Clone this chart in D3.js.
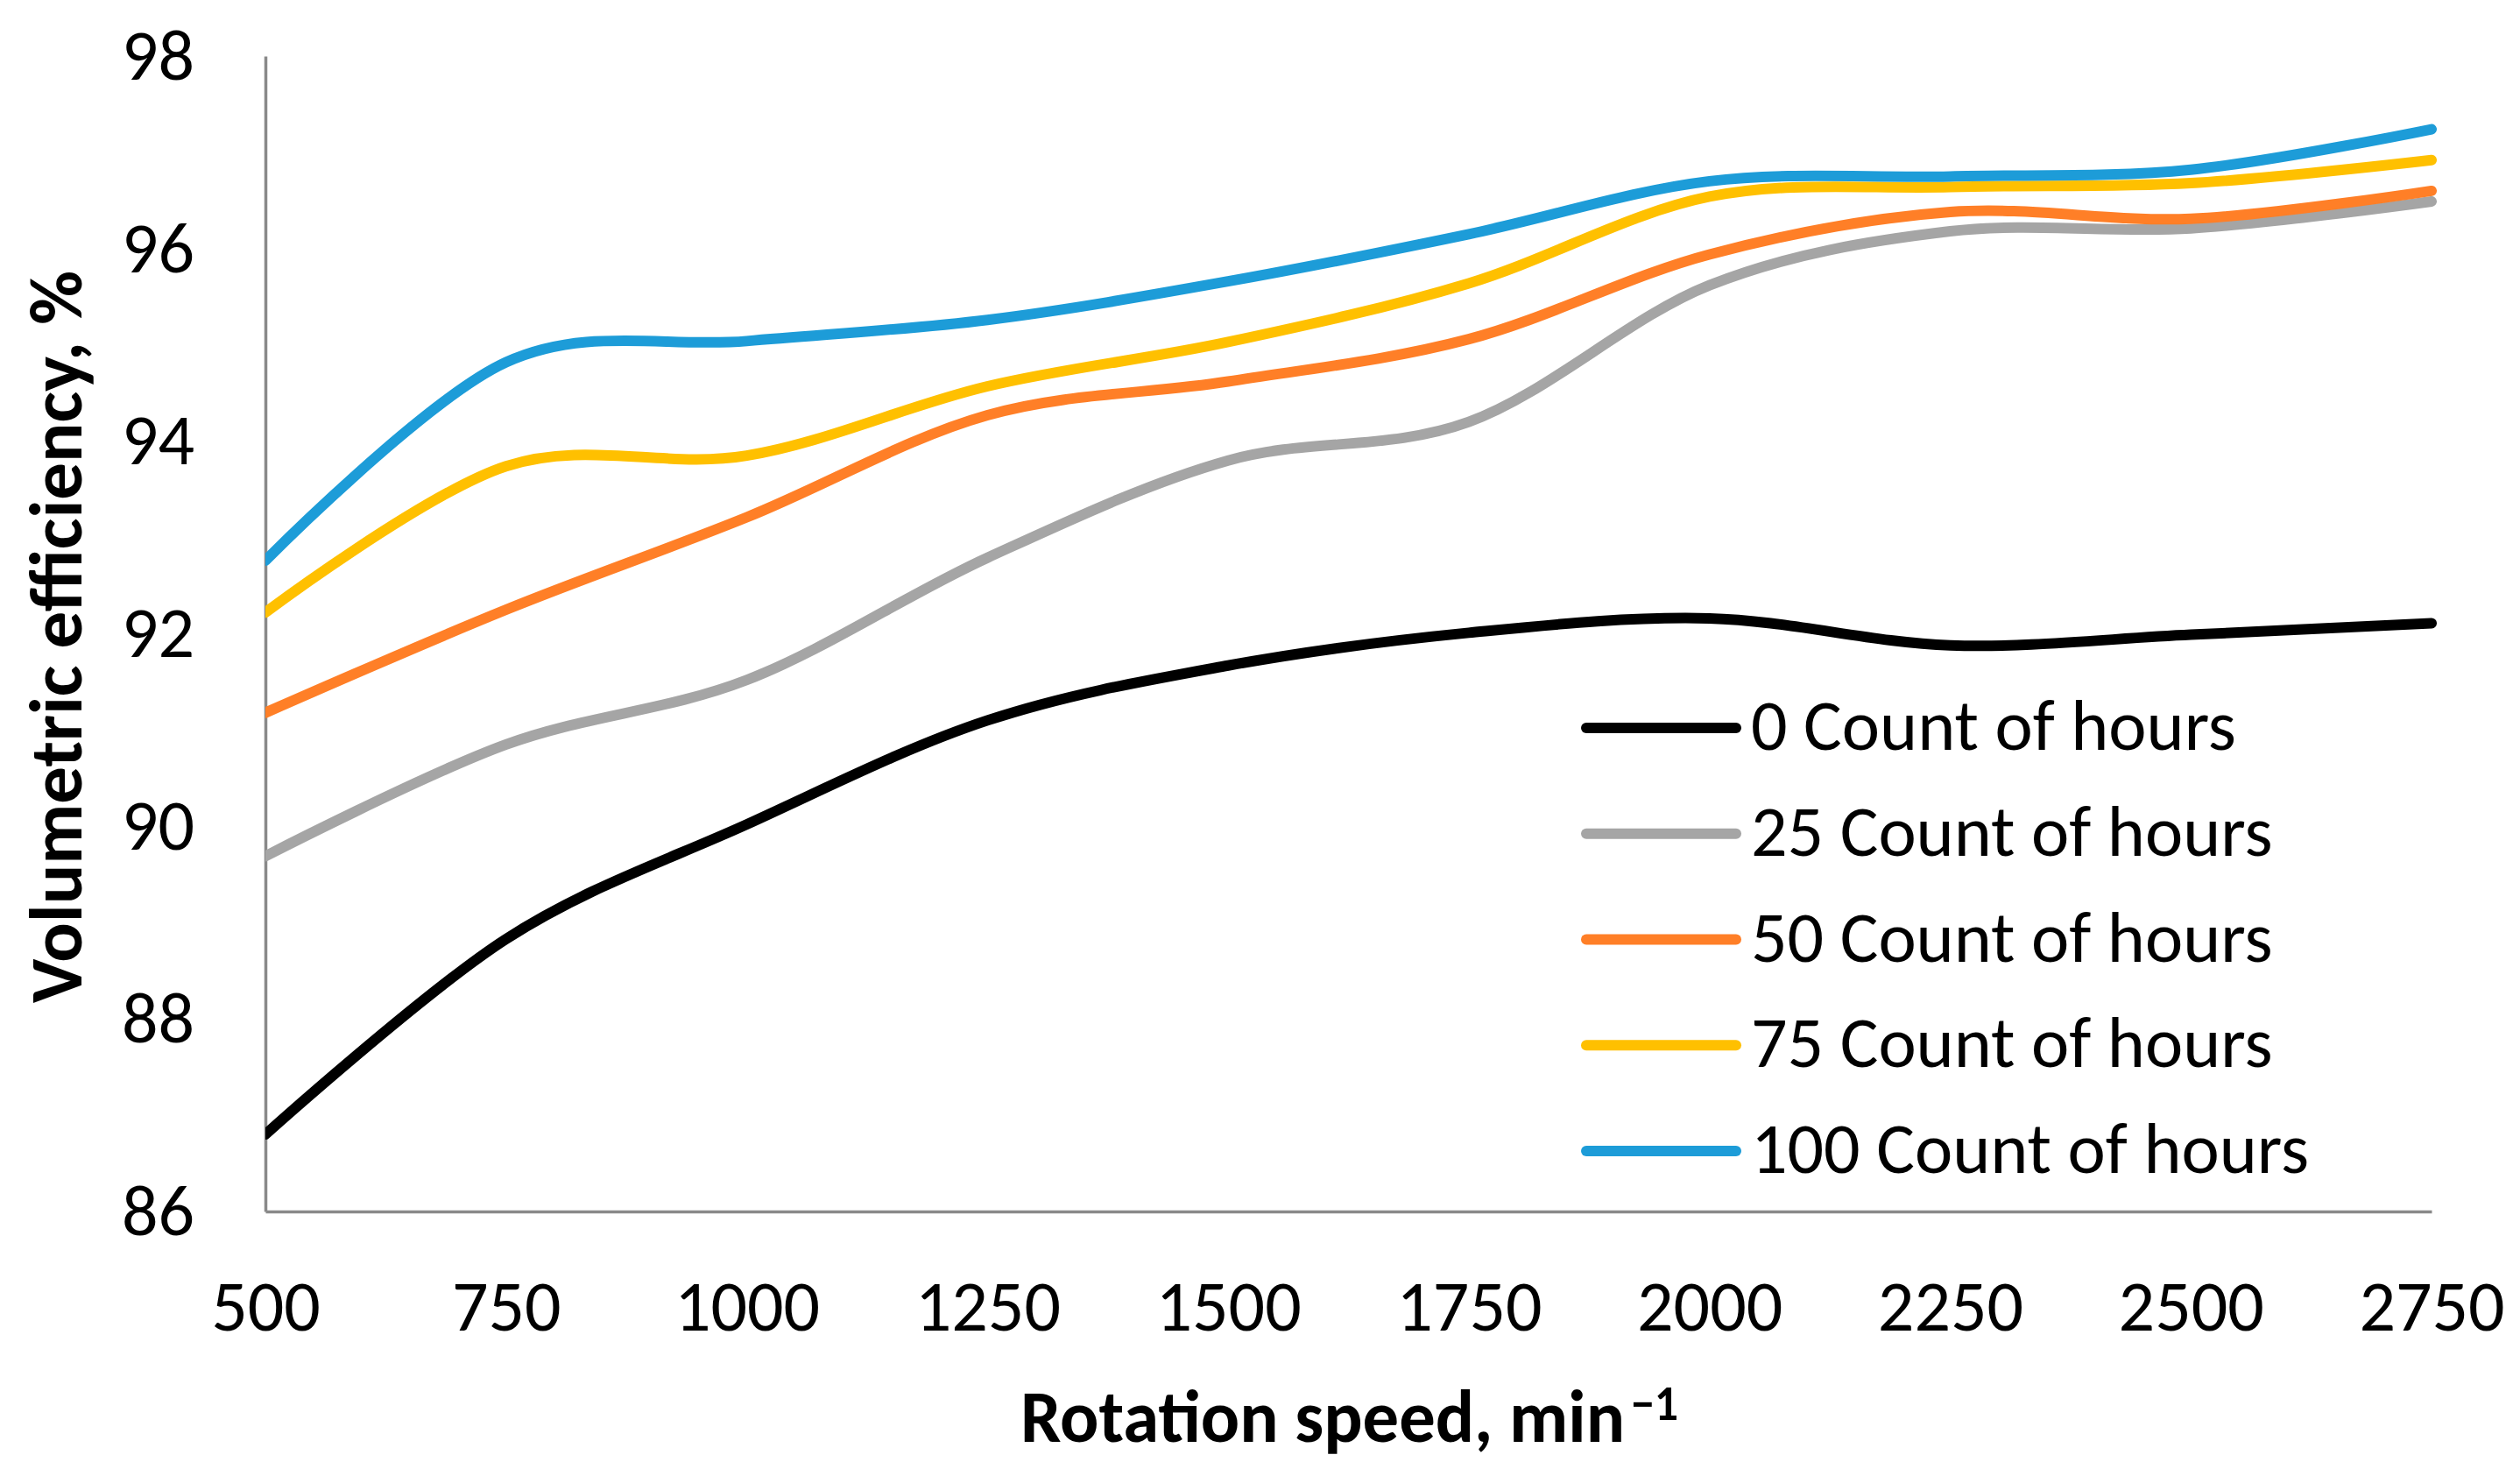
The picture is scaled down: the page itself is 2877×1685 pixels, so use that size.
<!DOCTYPE html>
<html>
<head>
<meta charset="utf-8">
<script src="https://cdn.jsdelivr.net/npm/d3@7"></script>
<style>
  html, body { margin: 0; padding: 0; background: #fff; }
  svg { display: block; }
  text { font-family: Carlito, "Open Sans", sans-serif; fill: #000; }
</style>
</head>
<body>
<svg id="chart" width="2877" height="1685"></svg>
<script>
// ---- data ----
const speeds = [500, 750, 1000, 1250, 1500, 1750, 2000, 2250, 2500, 2750];
const hours0   = [86.80, 88.83, 90.02, 91.10, 91.67, 92.01, 92.16, 91.88, 91.99, 92.11];
const hours25  = [89.69, 90.85, 91.52, 92.79, 93.80, 94.20, 95.62, 96.18, 96.21, 96.49];
const hours50  = [91.18, 92.25, 93.21, 94.27, 94.62, 95.06, 95.94, 96.38, 96.31, 96.60];
const hours75  = [92.22, 93.74, 93.85, 94.57, 95.03, 95.64, 96.54, 96.64, 96.68, 96.92];
const hours100 = [92.76, 94.82, 95.04, 95.26, 95.66, 96.15, 96.70, 96.75, 96.82, 97.24];
const seriesNames = ["0 Count of hours", "25 Count of hours", "50 Count of hours", "75 Count of hours", "100 Count of hours"];
const seriesColors = ["#000000", "#A5A5A5", "#FF7F27", "#FFC000", "#1D9CD8"];
const xTicks = [500, 750, 1000, 1250, 1500, 1750, 2000, 2250, 2500, 2750];
const yTicks = [86, 88, 90, 92, 94, 96, 98];
const xTitle = "Rotation speed, min";
const xTitleSup = "\u22121";
const yTitle = "Volumetric efficiency, %";

const seriesValues = [hours0, hours25, hours50, hours75, hours100];

(function () {
  // ---- layout ----
  const svg = d3.select("#chart");
  const pLeft = 303, pRight = 2776, pTop = 64, pBottom = 1383;
  const x = d3.scaleLinear().domain([500, 2750]).range([pLeft, pRight]);
  const y = d3.scaleLinear().domain([86, 98]).range([pBottom, pTop]);
  const axisColor = "#898989";
  const fontFam = 'Carlito, "Open Sans", sans-serif';
  const fs = 82;

  svg.append("defs").append("clipPath").attr("id", "plotclip")
    .append("rect").attr("x", pLeft).attr("y", 0).attr("width", 2877 - pLeft).attr("height", pBottom);

  // axes
  const yAxis = svg.append("g").attr("transform", `translate(${pLeft},0)`)
    .call(d3.axisLeft(y).tickValues(yTicks).tickSize(0).tickPadding(81).tickFormat(d3.format("d")));
  const xAxis = svg.append("g").attr("transform", `translate(0,${pBottom})`)
    .call(d3.axisBottom(x).tickValues(xTicks).tickSize(0).tickPadding(78).tickFormat(d3.format("d")));
  [yAxis, xAxis].forEach(g => {
    g.select(".domain").attr("stroke", axisColor).attr("stroke-width", 3.5);
    g.selectAll("text").attr("font-size", fs).attr("fill", "#000").style("font-family", fontFam);
  });

  // lines
  const line = d3.line()
    .x((d, i) => x(speeds[i]))
    .y(d => y(d))
    .curve(d3.curveCatmullRom.alpha(0));

  const lines = svg.append("g").attr("clip-path", "url(#plotclip)");
  seriesValues.forEach((vals, k) => {
    lines.append("path")
      .attr("d", line(vals))
      .attr("fill", "none")
      .attr("stroke", seriesColors[k])
      .attr("stroke-width", 12)
      .attr("stroke-linecap", "round")
      .attr("stroke-linejoin", "round");
  });

  // legend
  const legend = svg.append("g");
  seriesNames.forEach((name, k) => {
    const ly = 831 + k * 120.75;
    legend.append("line")
      .attr("x1", 1811).attr("x2", 1982).attr("y1", ly).attr("y2", ly)
      .attr("stroke", seriesColors[k]).attr("stroke-width", 12).attr("stroke-linecap", "round");
    legend.append("text")
      .attr("x", 1999).attr("y", ly + 25)
      .attr("font-size", fs)
      .text(name);
  });

  // axis titles
  svg.append("text")
    .attr("transform", "translate(93,727) rotate(-90)")
    .attr("text-anchor", "middle")
    .attr("font-size", 84).attr("font-weight", "bold")
    .attr("textLength", 836).attr("lengthAdjust", "spacingAndGlyphs")
    .text(yTitle);

  const xt = svg.append("text")
    .attr("font-size", 84).attr("font-weight", "bold");
  xt.append("tspan")
    .attr("x", 1165).attr("y", 1646)
    .attr("textLength", 690).attr("lengthAdjust", "spacingAndGlyphs")
    .text(xTitle);
  xt.append("tspan")
    .attr("x", 1862).attr("y", 1621)
    .attr("font-size", 56)
    .attr("textLength", 54).attr("lengthAdjust", "spacingAndGlyphs")
    .text(xTitleSup);
})();
</script>
</body>
</html>
